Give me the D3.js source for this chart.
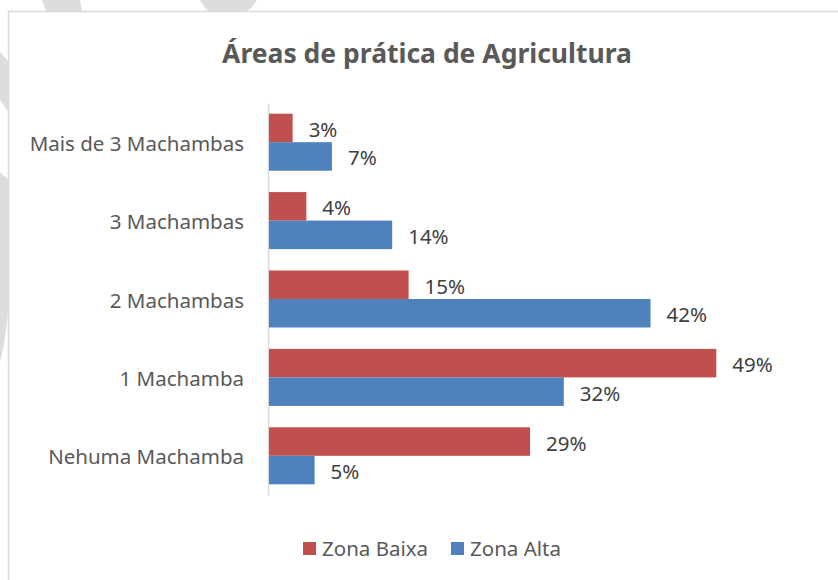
<!DOCTYPE html>
<html>
<head>
<meta charset="utf-8">
<script src="https://cdn.jsdelivr.net/npm/d3@7"></script>
<style>
  body { margin: 0; background: #fff; }
  text { font-family: "Noto Sans", "Open Sans", sans-serif; }
</style>
</head>
<body>
<div id="graf"></div>
<script>
// datos
const categorias = ["Mais de 3 Machambas", "3 Machambas", "2 Machambas", "1 Machamba", "Nehuma Machamba"]
const series = ["Zona Baixa", "Zona Alta"]
const zonaBaixa = [0.027, 0.042, 0.154, 0.491, 0.287]
const zonaAlta = [0.070, 0.136, 0.419, 0.324, 0.051]
const colores = ["#C0504D", "#4F81BD"]
const titulo = "Áreas de prática de Agricultura"

const anchoTotal = 838
const altoTotal = 580
const tamTexto = 20.5

const svg = d3.select("#graf")
  .append("svg")
  .attr("width", anchoTotal)
  .attr("height", altoTotal)

// marca de agua de fondo (solo asoma fuera del marco)
const marca = [
  "M42,0 L80,0 L82,11 L46,11 Z",
  "M200,0 L257,0 Q252,8 247,11 L208,11 Q203,6 200,0 Z",
  "M0,52 L9,62 L9,113 L0,100 Z",
  "M0,172 L9,180 L9,300 Q6,340 0,362 Z"
]
svg.selectAll("path.marca")
  .data(marca)
  .enter()
  .append("path")
  .attr("d", d => d)
  .attr("fill", "#dddddd")

// marco del grafico
svg.append("rect")
  .attr("x", 8.5)
  .attr("y", 11.5)
  .attr("width", 860)
  .attr("height", 600)
  .attr("fill", "#fff")
  .attr("stroke", "#d9d9d9")
  .attr("stroke-width", 1.5)

const data = categorias.map((c, i) => ({ cat: c, valores: [zonaBaixa[i], zonaAlta[i]] }))

// escaladores
const x = d3.scaleLinear()
  .domain([0, 0.6])
  .range([268, 268 + 0.6 * 913])

const y = d3.scaleBand()
  .domain(categorias)
  .range([103, 495])
  .padding(0)

const ySub = d3.scaleBand()
  .domain(series)
  .range([0, y.bandwidth()])
  .paddingInner(0)
  .paddingOuter(0.375)

const color = d3.scaleOrdinal().domain(series).range(colores)
const fmt = d3.format(".0%")

// titulo
svg.append("text")
  .attr("x", 427)
  .attr("y", 63)
  .attr("text-anchor", "middle")
  .attr("font-size", 26.5)
  .attr("font-weight", "bold")
  .attr("fill", "#595959")
  .text(titulo)

// eje vertical
const yAxis = d3.axisLeft(y).tickSize(0).tickPadding(24)
const yAxisGroup = svg.append("g")
  .attr("transform", `translate(268, 0)`)
  .call(yAxis)
yAxisGroup.select(".domain").attr("stroke", "#d9d9d9").attr("stroke-width", 1.5)
yAxisGroup.selectAll("text")
  .attr("font-size", tamTexto)
  .attr("fill", "#595959")
  .attr("dy", "0.42em")
  .style("font-family", "\"Noto Sans\", sans-serif")

// barras
const grupos = svg.selectAll("g.cat")
  .data(data)
  .enter()
  .append("g")
  .attr("class", "cat")
  .attr("transform", d => `translate(0, ${y(d.cat)})`)

grupos.selectAll("rect")
  .data(d => d.valores.map((v, i) => ({ serie: series[i], v: v })))
  .enter()
  .append("rect")
  .attr("x", x(0) + 1)
  .attr("y", d => ySub(d.serie))
  .attr("width", d => x(d.v) - x(0) - 1)
  .attr("height", ySub.bandwidth())
  .attr("fill", d => color(d.serie))

// etiquetas de datos
grupos.selectAll("text.etiq")
  .data(d => d.valores.map((v, i) => ({ serie: series[i], v: v })))
  .enter()
  .append("text")
  .attr("class", "etiq")
  .attr("x", d => x(d.v) + 16)
  .attr("y", d => ySub(d.serie) + ySub.bandwidth() / 2)
  .attr("dy", "0.44em")
  .attr("font-size", tamTexto)
  .attr("fill", "#404040")
  .text(d => fmt(d.v))

// leyenda
const leyenda = svg.append("g").attr("transform", "translate(303, 542)")
const items = leyenda.selectAll("g")
  .data(series)
  .enter()
  .append("g")
  .attr("transform", (d, i) => `translate(${i * 148}, 0)`)
items.append("rect")
  .attr("width", 13)
  .attr("height", 13)
  .attr("fill", d => color(d))
items.append("text")
  .attr("x", 19)
  .attr("y", 14)
  .attr("font-size", tamTexto)
  .attr("fill", "#595959")
  .text(d => d)
</script>
</body>
</html>
